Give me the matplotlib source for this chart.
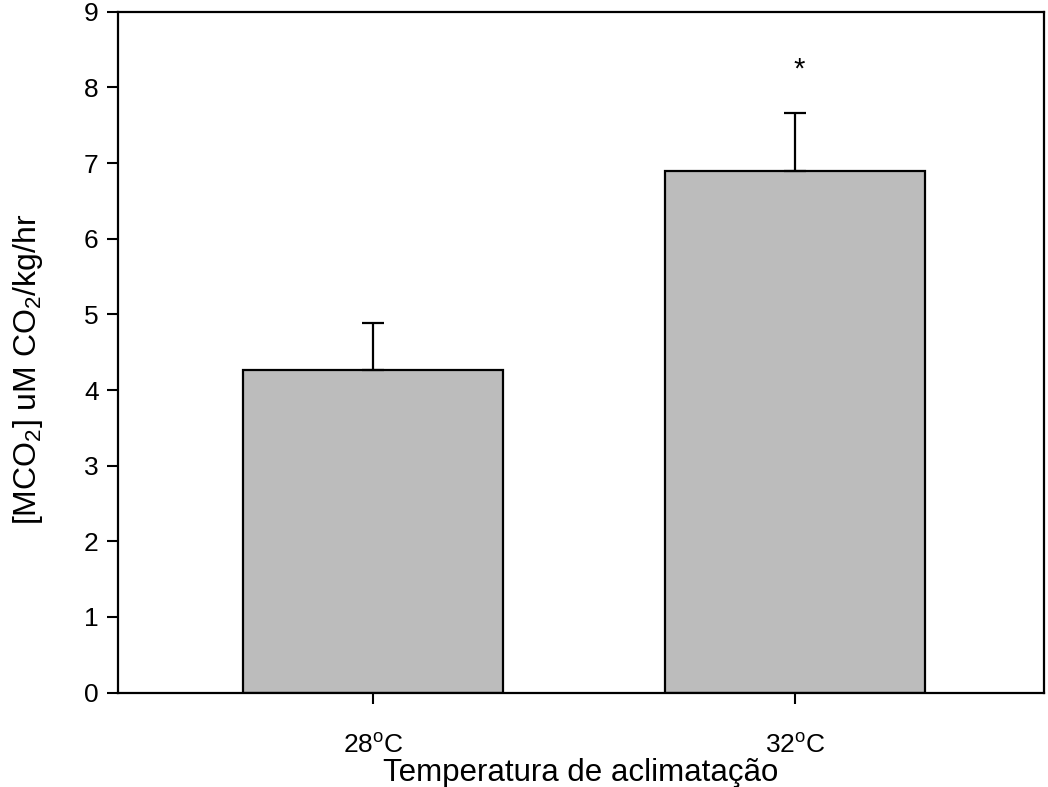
import matplotlib
matplotlib.use('Agg')
import matplotlib.pyplot as plt

# Dados
temperaturas = ['28$^{\\mathrm{o}}$C', '32$^{\\mathrm{o}}$C']
mco2_media = [4.26, 6.90]
mco2_erro = [0.62, 0.76]
significancia = ['', '*']


def main() -> None:
    plt.rcParams['font.family'] = ['Liberation Sans', 'DejaVu Sans']
    plt.rcParams['mathtext.fontset'] = 'custom'
    plt.rcParams['mathtext.rm'] = 'Liberation Sans'
    plt.rcParams['mathtext.it'] = 'Liberation Sans:italic'

    fig = plt.figure(figsize=(10.48, 7.87), dpi=100)
    ax = fig.add_axes([0.1126, 0.12, 0.8834, 0.865])

    x = [1, 2]
    ax.bar(x, mco2_media, width=0.616, color='#bcbcbc', edgecolor='black',
           linewidth=1.6, zorder=2)
    ax.errorbar(x, mco2_media, yerr=[[0] * len(x), mco2_erro], fmt='none',
                ecolor='black', elinewidth=1.6, capsize=8, capthick=1.6, zorder=3)

    for xi, m, e, s in zip(x, mco2_media, mco2_erro, significancia):
        if s:
            ax.text(xi + 0.01, m + e + 0.58, s, ha='center', va='center', fontsize=21)

    ax.set_xlim(0.396, 2.59)
    ax.set_ylim(0, 9)
    ax.set_yticks(range(0, 10))
    ax.set_xticks(x)
    ax.set_xticklabels(temperaturas)
    ax.tick_params(direction='out', length=8, width=1.5, labelsize=19, pad=6)
    ax.tick_params(axis='x', pad=22)
    for sp in ax.spines.values():
        sp.set_linewidth(1.6)

    ax.set_xlabel('Temperatura de aclimatação', fontsize=22.5, labelpad=0)
    ax.set_ylabel('[MCO$_2$] uM CO$_2$/kg/hr', fontsize=23)
    ax.yaxis.set_label_coords(-0.079, 0.475)

    fig.savefig('out.png', dpi=100)


if __name__ == '__main__':
    main()
